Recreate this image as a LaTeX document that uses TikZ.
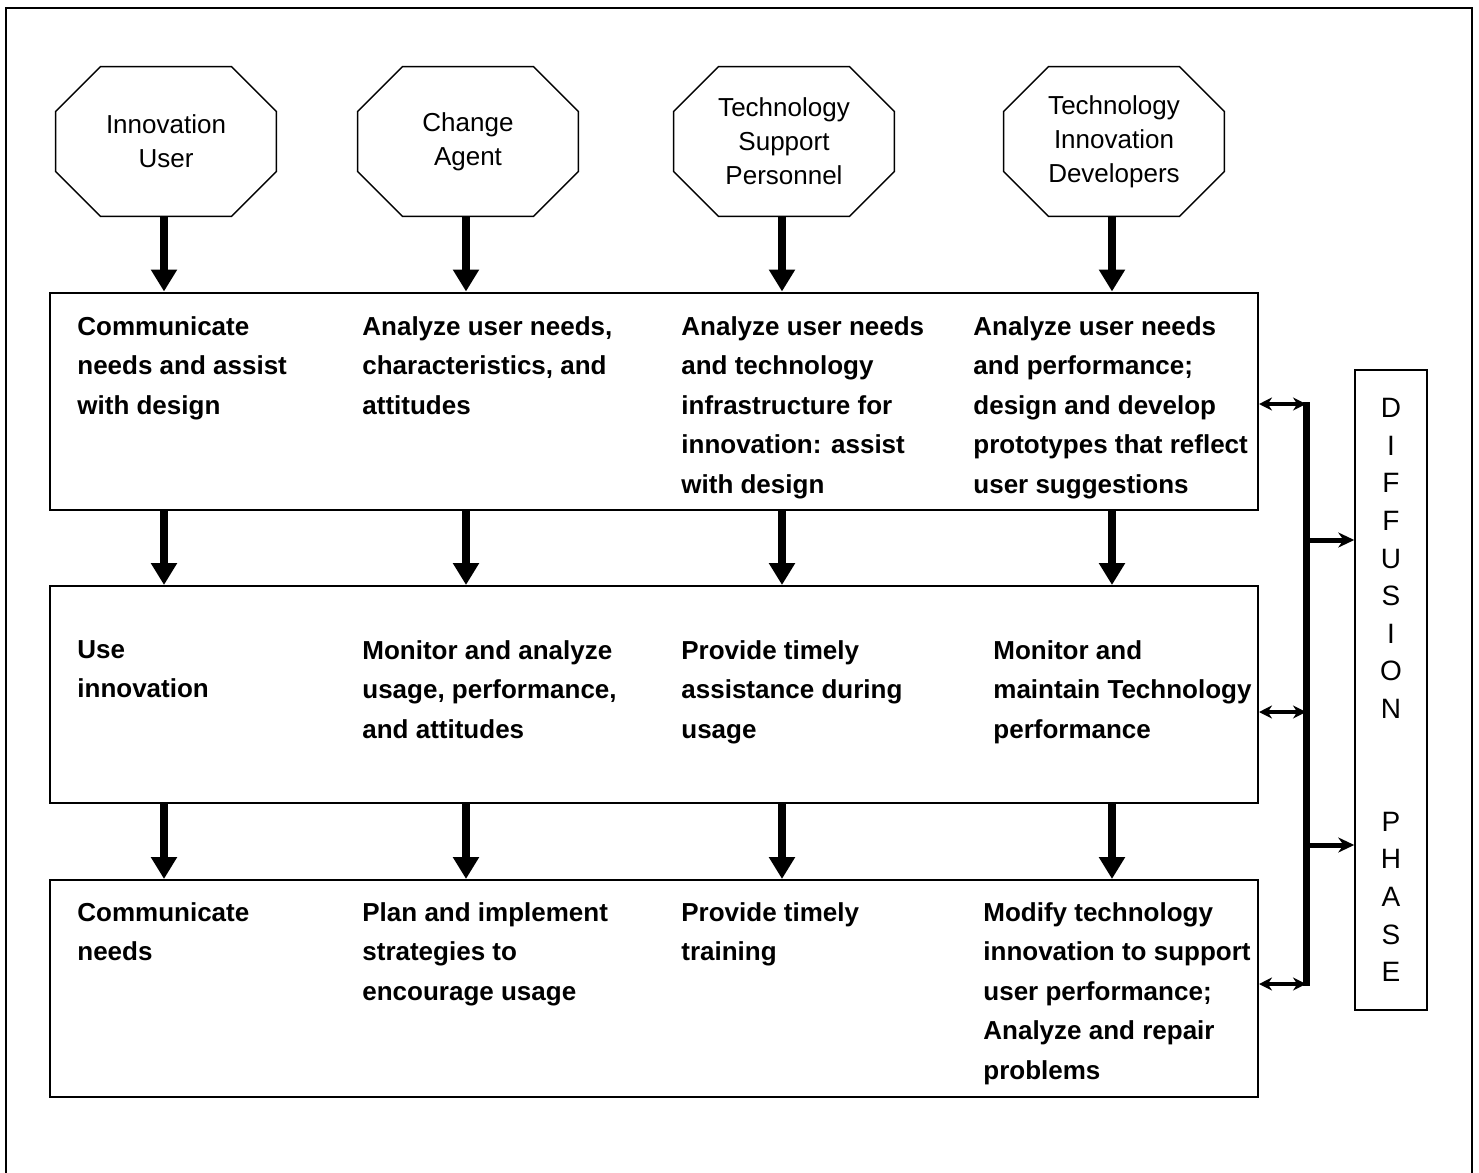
\documentclass[tikz,border=0pt]{standalone}
\usepackage{fontspec}
\setmainfont{Liberation Sans}
\usetikzlibrary{arrows.meta}

\begin{document}
\begin{tikzpicture}[
  x=0.5pt, y=-0.5pt,
  actor/.style={minimum width=110pt, minimum height=74.5pt, inner sep=0pt, align=center, font=\fontsize{13}{17}\selectfont},
  stage/.style={draw, line width=1pt, minimum width=604pt, minimum height=108.5pt, inner sep=0pt},
  task/.style={anchor=north west, inner sep=0pt, align=left, font=\bfseries\fontsize{13}{19.75}\selectfont},
  arr/.style={-{Triangle[length=11pt,width=12.5pt]}, line width=4pt},
  dbl/.style={{Stealth[length=6.5pt,width=6.5pt]}-{Stealth[length=6.5pt,width=6.5pt]}, line width=1.8pt},
  feed/.style={-{Stealth[length=8pt,width=7.5pt]}, line width=2.5pt}
]
  \useasboundingbox (0,0) rectangle (1479,1173);
  \draw[line width=1pt] (6,1190) -- (6,8) -- (1472,8) -- (1472,1190);

  % the four actors
  \node[actor] (iu) at (166,141.5) {Innovation\\User};
  \node[actor] (ca) at (468,141.5) {Change\\Agent};
  \node[actor] (tsp) at (784,141.5) {Technology\\Support\\Personnel};
  \node[actor] (tid) at (1114,141.5) {Technology\\Innovation\\Developers};
  \foreach \n in {iu,ca,tsp,tid}
    \draw[line width=0.7pt] ([xshift=22.5pt]\n.north west) -- ([xshift=-22.5pt]\n.north east)
      -- ([yshift=-22.5pt]\n.north east) -- ([yshift=22.5pt]\n.south east)
      -- ([xshift=-22.5pt]\n.south east) -- ([xshift=22.5pt]\n.south west)
      -- ([yshift=22.5pt]\n.south west) -- ([yshift=-22.5pt]\n.north west) -- cycle;

  % the three stages
  \node[stage] (b1) at (654,401) {};
  \node[stage] (b2) at (654,694.5) {};
  \node[stage] (b3) at (654,988.5) {};

  \node[task] (t11) at (77,316) {Communicate\\needs and assist\\with design};
  \node[task] (t12) at (362,316) {Analyze user needs,\\characteristics, and\\attitudes};
  \node[task] (t13) at (681,316) {Analyze user needs\\and technology\\infrastructure for\\innovation: assist\\with design};
  \node[task] (t14) at (973,316) {Analyze user needs\\and performance;\\design and develop\\prototypes that reflect\\user suggestions};

  \node[task] (t21) at (77,640) {Use\\innovation};
  \node[task] (t22) at (362,640) {Monitor and analyze\\usage, performance,\\and attitudes};
  \node[task] (t23) at (681,640) {Provide timely\\assistance during\\usage};
  \node[task] (t24) at (993,640) {Monitor and\\maintain Technology\\performance};

  \node[task] (t31) at (77,902) {Communicate\\needs};
  \node[task] (t32) at (362,902) {Plan and implement\\strategies to\\encourage usage};
  \node[task] (t33) at (681,902) {Provide timely\\training};
  \node[task] (t34) at (983,902) {Modify technology\\innovation to support\\user performance;\\Analyze and repair\\problems};

  \foreach \n in {iu,ca,tsp,tid} {
    \draw[arr] ([xshift=-1pt]\n.south) -- ([xshift=-1pt]\n.south |- b1.north);
    \draw[arr] ([xshift=-1pt]b1.south -| \n) -- ([xshift=-1pt]b2.north -| \n);
    \draw[arr] ([xshift=-1pt]b2.south -| \n) -- ([xshift=-1pt]b3.north -| \n);
  }

  % diffusion phase
  \node[draw, line width=0.75pt, minimum width=36pt, minimum height=320pt, inner sep=0pt, align=center,
    font=\fontsize{14}{18.8}\selectfont] (dp) at (1391,690)
    {D\\I\\F\\F\\U\\S\\I\\O\\N\\[37.6pt]P\\H\\A\\S\\E};

  \coordinate (bt) at (1306,404);
  \coordinate (bm) at (1306,712);
  \coordinate (bb) at (1306,984);
  \coordinate (j1) at (1306,540);
  \coordinate (j2) at (1306,845);
  \draw[line width=3.5pt] ([yshift=1pt]bt) -- ([yshift=-1pt]bb);
  \draw[dbl] (b1.east |- bt) -- (bt);
  \draw[dbl] (b2.east |- bm) -- (bm);
  \draw[dbl] (b3.east |- bb) -- (bb);
  \draw[feed] (j1) -- (j1 -| dp.west);
  \draw[feed] (j2) -- (j2 -| dp.west);
\end{tikzpicture}
\end{document}
